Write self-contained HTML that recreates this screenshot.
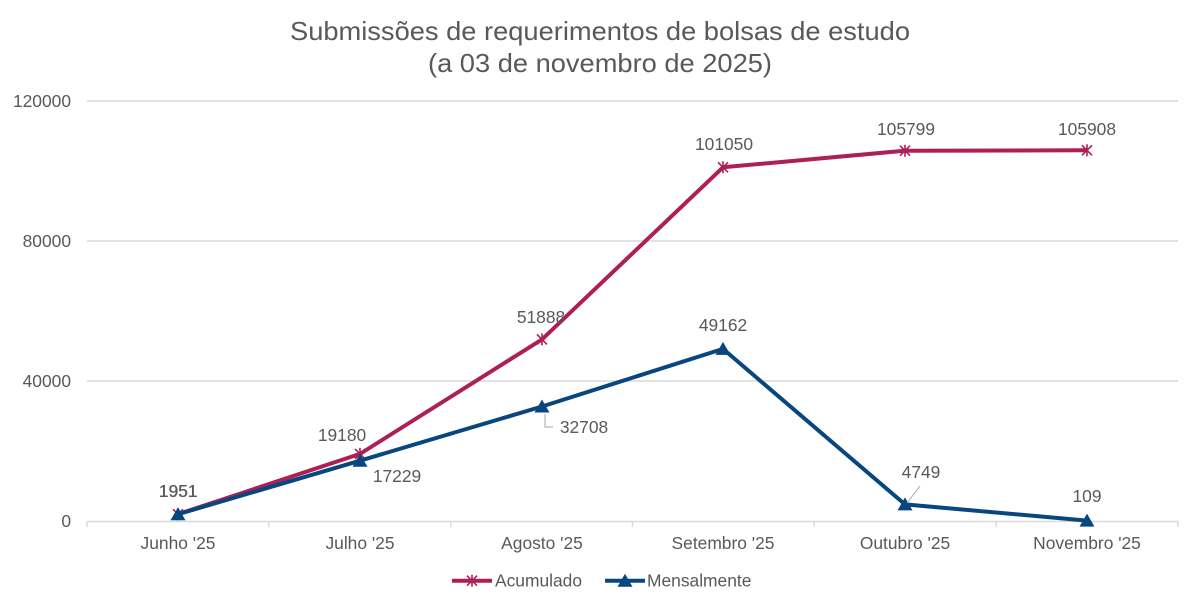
<!DOCTYPE html>
<html><head><meta charset="utf-8"><style>
html,body{margin:0;padding:0;background:#fff;}
svg{display:block;}
text{font-family:"Liberation Sans",Arial,sans-serif;fill:#595959;}
</style></head><body>
<svg width="1200" height="608" viewBox="0 0 1200 608" xmlns="http://www.w3.org/2000/svg">
<rect width="1200" height="608" fill="#fff"/>
<text x="600" y="40" font-size="26" text-anchor="middle" textLength="620" lengthAdjust="spacingAndGlyphs">Submissões de requerimentos de bolsas de estudo</text>
<text x="600" y="72" font-size="26" text-anchor="middle" textLength="344" lengthAdjust="spacingAndGlyphs">(a 03 de novembro de 2025)</text>
<g stroke="#d9d9d9" stroke-width="1.5">
<line x1="87" y1="101" x2="1178" y2="101"/>
<line x1="87" y1="241" x2="1178" y2="241"/>
<line x1="87" y1="381" x2="1178" y2="381"/>
<line x1="87" y1="521.5" x2="1178" y2="521.5"/>
<line x1="87" y1="521" x2="87" y2="527"/>
<line x1="268.8" y1="521" x2="268.8" y2="527"/>
<line x1="450.7" y1="521" x2="450.7" y2="527"/>
<line x1="632.5" y1="521" x2="632.5" y2="527"/>
<line x1="814.3" y1="521" x2="814.3" y2="527"/>
<line x1="996.2" y1="521" x2="996.2" y2="527"/>
<line x1="1178" y1="521" x2="1178" y2="527"/>
</g>
<g font-size="17.4" text-anchor="end">
<text x="71" y="107">120000</text>
<text x="71" y="247">80000</text>
<text x="71" y="387">40000</text>
<text x="71" y="527">0</text>
</g>
<g font-size="17.4" text-anchor="middle">
<text x="178" y="549">Junho '25</text>
<text x="360" y="549">Julho '25</text>
<text x="542" y="549">Agosto '25</text>
<text x="723" y="549">Setembro '25</text>
<text x="905" y="549">Outubro '25</text>
<text x="1087" y="549">Novembro '25</text>
</g>
<!-- Acumulado -->
<polyline fill="none" stroke="#AD1F57" stroke-width="4" stroke-linejoin="round" points="178,514.2 360,453.9 542,339.4 723,167.3 905,150.7 1087,150.3"/>
<g stroke="#AD1F57" stroke-width="1.6" fill="none">
<path d="M173,509.2l10,10M183,509.2l-10,10M178,508.2v12"/>
<path d="M355,448.9l10,10M365,448.9l-10,10M360,447.9v12"/>
<path d="M537,334.4l10,10M547,334.4l-10,10M542,333.4v12"/>
<path d="M718,162.3l10,10M728,162.3l-10,10M723,161.3v12"/>
<path d="M900,145.7l10,10M910,145.7l-10,10M905,144.7v12"/>
<path d="M1082,145.3l10,10M1092,145.3l-10,10M1087,144.3v12"/>
</g>
<!-- Mensalmente -->
<polyline fill="none" stroke="#08467F" stroke-width="4" stroke-linejoin="round" points="178,514.2 360,460.7 542,406.5 723,348.9 905,504.4 1087,520.6"/>
<g fill="#08467F">
<path d="M178,507.2l7.5,13h-15z"/>
<path d="M360,453.7l7.5,13h-15z"/>
<path d="M542,399.5l7.5,13h-15z"/>
<path d="M723,341.9l7.5,13h-15z"/>
<path d="M905,497.4l7.5,13h-15z"/>
<path d="M1087,513.6l7.5,13h-15z"/>
</g>
<!-- leader lines -->
<g stroke="#a6a6a6" stroke-width="1" fill="none">
<path d="M545,414v13h8"/>
<path d="M907,503L920,486"/>
</g>
<g font-size="17.4" text-anchor="middle">
<text x="178" y="497">1951</text>
<text x="178.4" y="497">1951</text>
<text x="342" y="441">19180</text>
<text x="397" y="482">17229</text>
<text x="541" y="323">51888</text>
<text x="584" y="433">32708</text>
<text x="723" y="331">49162</text>
<text x="724" y="150">101050</text>
<text x="906" y="135">105799</text>
<text x="1087" y="135">105908</text>
<text x="921" y="478">4749</text>
<text x="1087" y="502">109</text>
</g>
<!-- legend -->
<line x1="452" y1="580.7" x2="492" y2="580.7" stroke="#AD1F57" stroke-width="4"/>
<path d="M467,575.7l10,10M477,575.7l-10,10M472,574.7v12" stroke="#AD1F57" stroke-width="1.6"/>
<text x="495" y="586.5" font-size="17.4">Acumulado</text>
<line x1="605" y1="580.7" x2="645" y2="580.7" stroke="#08467F" stroke-width="4"/>
<path d="M625,573.7l7.5,13h-15z" fill="#08467F"/>
<text x="647" y="586.5" font-size="17.4">Mensalmente</text>
</svg>
</body></html>
